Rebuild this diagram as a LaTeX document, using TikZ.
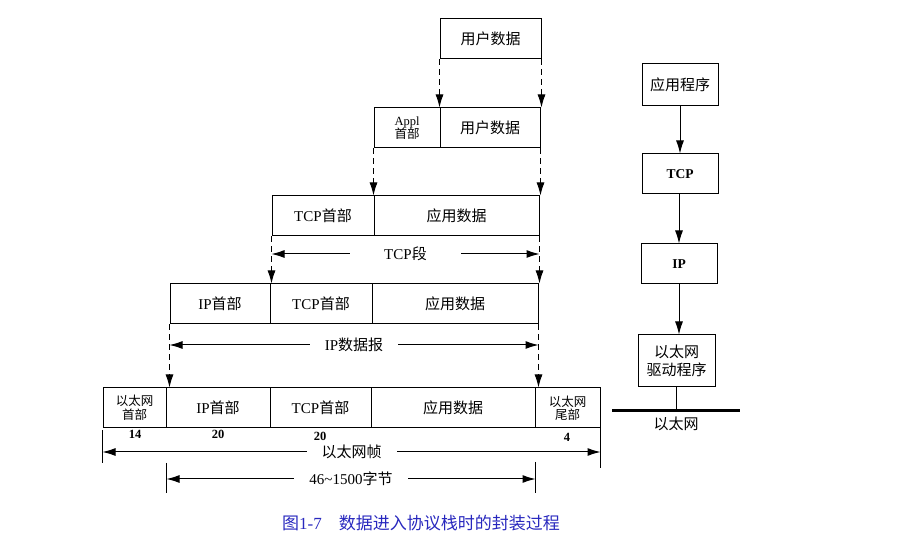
\documentclass[tikz,border=0pt]{standalone}
\usepackage{fontspec}
\setmainfont{Liberation Serif}
\newfontfamily\cjk{Noto Sans CJK SC}
\newcommand{\zh}[1]{{\cjk #1}}
\usetikzlibrary{positioning,arrows.meta}
\definecolor{capblue}{RGB}{40,40,190}
\tikzset{
    x=1pt,
    y=-1pt,
    >={Latex[length=13pt,width=8pt]},
    cell/.style = {
        draw,
        shape=rectangle,
        minimum height=40pt,
        inner sep=0pt,
        line width=1pt,
        font=\fontsize{15}{16}\selectfont
    },
    smallcell/.style = {
        cell,
        align=center,
        font=\fontsize{12.5}{13.5}\selectfont
    },
    layer/.style = {
        draw,
        shape=rectangle,
        minimum width=76pt,
        minimum height=40pt,
        inner sep=0pt,
        line width=1pt,
        align=center,
        font=\fontsize{15}{18}\selectfont
    },
    guide/.style = {
        draw,
        line width=1pt,
        dash pattern=on 6pt off 4pt
    },
    span/.style = {
        fill=white,
        inner xsep=15pt,
        inner ysep=1pt,
        font=\fontsize{15}{16}\selectfont
    },
    num/.style = {
        font=\bfseries\fontsize{12.5}{13}\selectfont
    },
}

\begin{document}
\begin{tikzpicture}
            \useasboundingbox (0,0) rectangle (906,545);

            % user data
            \node[cell, minimum width=101] (ud1) at (490.5,39) {\zh{用户数据}};

            % application layer
            \node[smallcell, minimum width=66] (appl) at (407,128) {Appl\\\zh{首部}};
            \node[cell, minimum width=100] (ud2) at (490,128) {\zh{用户数据}};

            % tcp segment
            \node[cell, minimum width=102] (tcph3) at (323,216) {TCP\zh{首部}};
            \node[cell, minimum width=165] (app3) at (456.5,216) {\zh{应用数据}};

            % ip datagram
            \node[cell, minimum width=100] (iph4) at (220,304) {IP\zh{首部}};
            \node[cell, minimum width=102] (tcph4) at (321,304) {TCP\zh{首部}};
            \node[cell, minimum width=166] (app4) at (455,304) {\zh{应用数据}};

            % ethernet frame
            \node[smallcell, minimum width=63] (eth) at (134.5,408) {\zh{以太网}\\\zh{首部}};
            \node[cell, minimum width=104] (iph5) at (218,408) {IP\zh{首部}};
            \node[cell, minimum width=101] (tcph5) at (320.5,408) {TCP\zh{首部}};
            \node[cell, minimum width=164] (app5) at (453,408) {\zh{应用数据}};
            \node[smallcell, minimum width=65] (etht) at (567.5,408) {\zh{以太网}\\\zh{尾部}};

            \node[num] (n14) at (135,434) {14};
            \node[num] (n20a) at (218,434) {20};
            \node[num] (n20b) at (320,436) {20};
            \node[num] (n4) at (567,437) {4};

            % encapsulation guides
            \path[guide, ->] (ud1.south west) -- (ud1.south west |- appl.north);
            \path[guide, ->] (ud1.south east) -- (ud1.south east |- ud2.north);
            \path[guide, ->] (appl.south west) -- (appl.south west |- tcph3.north);
            \path[guide, ->] (ud2.south east) -- (ud2.south east |- app3.north);
            \path[guide, ->] (tcph3.south west) -- (tcph3.south west |- iph4.north);
            \path[guide, ->] (app3.south east) -- (app3.south east |- app4.north);
            \path[guide, ->] (iph4.south west) -- (iph4.south west |- eth.north);
            \path[guide, ->] (app4.south east) -- (app4.south east |- app5.north);

            % spans
            \coordinate (segL) at (tcph3.south west |- 0,254);
            \coordinate (segR) at (app3.south east |- 0,254);
            \path[draw, <->, line width=1pt] (segL) -- (segR)
                node[span, midway, inner xsep=34pt] {TCP\zh{段}};

            \coordinate (dgL) at (iph4.south west |- 0,345);
            \coordinate (dgR) at (app4.south east |- 0,345);
            \path[draw, <->, line width=1pt] (dgL) -- (dgR)
                node[span, midway] {IP\zh{数据报}};

            \coordinate (frL) at (eth.south west |- 0,452);
            \coordinate (frR) at (etht.south east |- 0,452);
            \path[draw, line width=1pt] (eth.south west) ++(0,2) -- ++(0,33);
            \path[draw, line width=1pt] (etht.south east) -- ++(0,40);
            \path[draw, <->, line width=1pt] (frL) -- (frR)
                node[span, midway] {\zh{以太网帧}};

            \coordinate (plL) at (eth.south east |- 0,479);
            \coordinate (plR) at (app5.south east |- 0,479);
            \path[draw, line width=1pt] (plL) ++(0,-16) -- ++(0,30);
            \path[draw, line width=1pt] (plR) ++(0,-17) -- ++(0,31);
            \path[draw, <->, line width=1pt] (plL) -- (plR)
                node[span, midway] {46\textasciitilde1500\zh{字节}};

            % protocol stack
            \node[layer, minimum height=42] (app) at (680,85) {\zh{应用程序}};
            \node[layer, font=\bfseries\fontsize{13.5}{15}\selectfont] (tcp) at (680,174) {TCP};
            \node[layer, font=\bfseries\fontsize{13.5}{15}\selectfont] (ip) at (679,264) {IP};
            \node[layer, minimum width=77, minimum height=52] (drv) at (676.5,361) {\zh{以太网}\\\zh{驱动程序}};

            \path[draw, ->, line width=1pt] (app) -- (tcp);
            \path[draw, ->, line width=1pt] (ip.north |- tcp.south) -- (ip.north);
            \path[draw, ->, line width=1pt] (ip.south) -- (ip.south |- drv.north);

            \coordinate (busL) at (612,411);
            \coordinate (busR) at (740,411);
            \path[draw, line width=3pt] (busL) -- (busR);
            \path[draw, line width=1pt] (drv.south) -- (drv.south |- busL);
            \node[font=\fontsize{15}{16}\selectfont] (bus) at (676,424) {\zh{以太网}};

            % caption
            \node[text=capblue, font=\fontsize{17}{19}\selectfont] (cap) at (421,523)
                {\zh{图}1-7\hspace{1em}\zh{数据进入协议栈时的封装过程}};
        \end{tikzpicture}
\end{document}
